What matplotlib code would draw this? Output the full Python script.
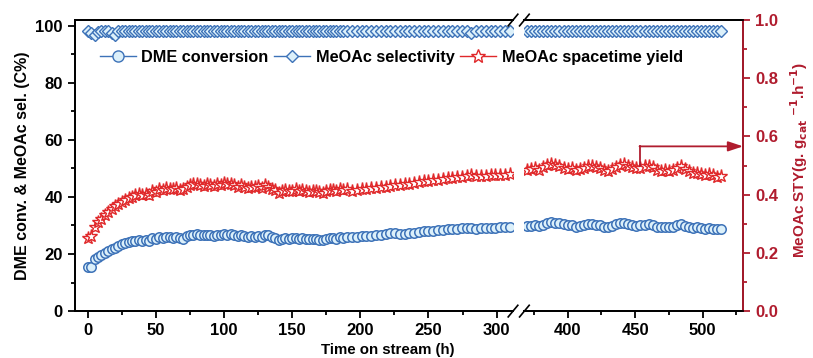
import matplotlib
matplotlib.use("Agg")
import matplotlib.pyplot as plt
from matplotlib.ticker import MultipleLocator
from matplotlib.lines import Line2D

plt.rcParams['font.family'] = ['Liberation Sans', 'DejaVu Sans']
plt.rcParams['font.weight'] = 'bold'
plt.rcParams['mathtext.default'] = 'bf'

# ---------------- data ----------------
t_dense = [0, 2.5, 5, 7.5, 10, 12.5, 15, 17.5, 20, 22.5, 25, 27.5, 30, 32.5, 35, 37.5, 40, 42.5, 45, 47.5,
           50, 52.5, 55, 57.5, 60, 62.5, 65, 67.5, 70, 72.5, 75, 77.5, 80, 82.5, 85, 87.5, 90, 92.5, 95, 97.5,
           100, 102.5, 105, 107.5, 110, 112.5, 115, 117.5, 120, 122.5, 125, 127.5, 130, 132.5, 135, 137.5,
           140, 142.5, 145, 147.5, 150, 152.5, 155, 157.5, 160, 162.5, 165, 167.5, 170, 172.5, 175, 177.5,
           180, 182.5, 185, 187.5, 190]
t_tail = [194, 197.5, 201, 204.5, 208, 211.5, 215, 218.5, 222, 225.5, 229, 232.5, 236, 239.5, 243, 246.5,
          250, 253.5, 257, 260.5, 264, 267.5, 271, 274.5, 278, 281.5, 285, 288.5, 292, 295.5, 299, 302.5,
          306, 309.5]
t_right = [370, 373, 376, 379, 382, 385, 388, 391, 394, 397, 400, 403, 406, 409, 412, 415, 418, 421, 424,
           427, 430, 433, 436, 439, 442, 445, 448, 451, 454, 457, 460, 463, 466, 469, 472, 475, 478, 481,
           484, 487, 490, 493, 496, 499, 502, 505, 508, 511, 514]

conv_dense = [15.3, 15.6, 18.2, 19.0, 19.6, 20.3, 21.0, 21.6, 22.2, 22.8, 23.4, 23.9, 24.1, 24.4, 24.6, 24.8,
              24.6, 24.9, 24.5, 25.6, 25.4, 25.8, 25.6, 26.0, 25.8, 25.7, 26.1, 25.5, 25.3, 26.3, 26.6, 26.8,
              27.0, 26.7, 26.5, 26.8, 26.6, 26.4, 26.7, 26.5, 26.9, 26.7, 27.0, 26.6, 26.4, 26.7, 26.2, 25.9,
              26.3, 26.1, 26.4, 26.0, 26.8, 26.5, 26.0, 25.5, 24.8, 25.3, 25.6, 25.4, 25.5, 25.7, 25.3, 25.5,
              25.4, 25.2, 25.4, 25.3, 25.0, 24.9, 25.3, 25.5, 25.6, 25.4, 25.8, 25.6, 25.9]
conv_tail = [26.0, 26.1, 26.2, 26.2, 26.4, 26.5, 26.6, 26.9, 27.2, 27.4, 27.1, 27.0, 27.2, 27.5, 27.8, 28.0,
             28.1, 28.2, 28.3, 28.5, 28.6, 28.8, 28.9, 29.0, 29.2, 29.2, 28.9, 29.0, 29.1, 29.1, 29.2, 29.3,
             29.3, 29.4]
conv_right = [29.8, 29.9, 30.0, 29.8, 30.3, 31.0, 31.3, 31.0, 30.8, 30.4, 30.0, 30.2, 29.6, 29.9, 30.2, 30.4,
              30.6, 30.3, 30.0, 29.6, 29.4, 29.8, 30.4, 30.8, 31.0, 30.6, 30.1, 29.8, 30.0, 30.3, 30.6, 30.2,
              29.6, 29.4, 29.5, 29.3, 29.6, 30.0, 30.4, 29.8, 29.4, 29.2, 29.3, 29.1, 28.9, 29.0, 28.8, 28.6,
              28.8]

sel_dense = [98.2, 97.5, 96.6, 97.9, 98.1, 98.2, 98.0, 97.6, 96.7, 98.0, 98.2, 98.1, 98.2, 98.0, 98.2, 98.1,
             98.2, 98.0, 98.2, 98.1, 98.2, 98.0, 98.2, 98.1, 98.2, 98.0, 98.2, 98.1, 98.2, 98.0, 98.2, 98.1,
             98.2, 98.0, 98.2, 98.1, 98.2, 98.0, 98.2, 98.1, 98.2, 98.0, 98.2, 98.1, 98.2, 98.0, 98.2, 98.1,
             98.2, 98.0, 98.2, 98.1, 98.2, 98.0, 98.2, 98.1, 98.2, 98.0, 98.2, 98.1, 98.2, 98.0, 98.2, 98.1,
             98.2, 98.0, 98.2, 98.1, 98.2, 98.0, 98.2, 98.1, 98.2, 98.0, 98.2, 98.1, 98.2]
sel_tail = [98.1, 98.0, 98.1, 98.0, 98.1, 98.0, 98.1, 98.0, 98.1, 98.0, 98.1, 98.0, 98.1, 98.0, 98.1, 98.0,
            98.1, 98.0, 98.1, 98.0, 98.1, 98.0, 98.1, 98.0, 98.1, 97.6, 98.1, 98.0, 98.1, 98.0, 98.1, 98.0,
            98.1, 98.0]
sel_right = [98.0, 98.1, 98.0, 98.1, 98.0, 98.1, 98.0, 98.1, 98.0, 98.1, 98.0, 98.1, 98.0, 98.1, 98.0, 98.1,
             98.0, 98.1, 98.0, 98.1, 98.0, 98.1, 98.0, 98.1, 98.0, 98.1, 98.0, 98.1, 98.0, 98.1, 98.0, 98.1,
             98.0, 98.1, 98.0, 98.1, 98.0, 98.1, 98.0, 98.1, 98.0, 98.1, 98.0, 98.1, 98.0, 98.1, 98.0, 98.1,
             98.0]

sty_dense = [0.250, 0.258, 0.290, 0.305, 0.318, 0.330, 0.340, 0.352, 0.360, 0.368, 0.375, 0.383, 0.390, 0.392,
             0.398, 0.402, 0.398, 0.404, 0.400, 0.412, 0.410, 0.418, 0.415, 0.422, 0.420, 0.418, 0.424, 0.415,
             0.420, 0.428, 0.432, 0.435, 0.438, 0.433, 0.430, 0.436, 0.434, 0.430, 0.435, 0.432, 0.440, 0.436,
             0.438, 0.432, 0.428, 0.434, 0.426, 0.422, 0.428, 0.425, 0.430, 0.424, 0.432, 0.428, 0.420, 0.415,
             0.405, 0.412, 0.416, 0.413, 0.414, 0.418, 0.412, 0.415, 0.414, 0.410, 0.414, 0.412, 0.408, 0.406,
             0.412, 0.415, 0.416, 0.414, 0.420, 0.417, 0.421]
sty_tail = [0.412, 0.415, 0.418, 0.420, 0.422, 0.424, 0.426, 0.428, 0.430, 0.433, 0.432, 0.435, 0.438, 0.440,
            0.443, 0.446, 0.448, 0.450, 0.452, 0.454, 0.456, 0.458, 0.460, 0.462, 0.465, 0.466, 0.464, 0.463,
            0.465, 0.466, 0.467, 0.468, 0.468, 0.470]
sty_right = [0.486, 0.488, 0.492, 0.486, 0.495, 0.502, 0.507, 0.503, 0.498, 0.492, 0.488, 0.492, 0.484, 0.488,
             0.493, 0.497, 0.500, 0.496, 0.490, 0.486, 0.482, 0.488, 0.496, 0.503, 0.507, 0.500, 0.494, 0.490,
             0.493, 0.497, 0.500, 0.494, 0.486, 0.482, 0.484, 0.480, 0.485, 0.490, 0.498, 0.488, 0.480, 0.474,
             0.476, 0.472, 0.468, 0.470, 0.466, 0.462, 0.465]

arrow_t = 454
arrow_y = [0.50, 0.566]

# ---------------- style ----------------
BLUE = '#3d72b8'
BLUE_FACE = '#dcf0fa'
RED = '#e0282a'
DARK_RED = '#b01c2e'
TICK_FS = 12

fig = plt.figure(figsize=(8.13, 3.58), dpi=100)
axL = fig.add_axes([0.092, 0.131, 0.539, 0.813])
axR = fig.add_axes([0.645, 0.131, 0.269, 0.813])
axL2 = axL.twinx()
axR2 = axR.twinx()

mk = dict(linestyle='none')
for ax, t, c, s in [(axL, t_dense + t_tail, conv_dense + conv_tail, sel_dense + sel_tail),
                    (axR, t_right, conv_right, sel_right)]:
    ax.plot(t, c, marker='o', ms=6.8, mfc=BLUE_FACE, mec=BLUE, mew=1.1, **mk)
    ax.plot(t, s, marker='D', ms=6.0, mfc=BLUE_FACE, mec=BLUE, mew=1.0, **mk)
for ax, t, y in [(axL2, t_dense + t_tail, sty_dense + sty_tail), (axR2, t_right, sty_right)]:
    ax.plot(t, y, marker='*', ms=9.5, mfc='white', mec=RED, mew=1.0, **mk)

# arrow
axR2.plot([arrow_t, arrow_t], arrow_y, color=DARK_RED, lw=1.3, clip_on=False)
axR2.annotate('', xy=(530, arrow_y[1]), xytext=(arrow_t - 0.7, arrow_y[1]),
              arrowprops=dict(arrowstyle='-|>,head_length=0.9,head_width=0.3', color=DARK_RED, lw=1.3,
                              shrinkA=0, shrinkB=0), annotation_clip=False)

# limits
for ax in (axL, axR):
    ax.set_ylim(0, 102)
for ax in (axL2, axR2):
    ax.set_ylim(0, 1.0)
axL.set_xlim(-9.5, 312)
axL2.set_xlim(-9.5, 312)
axR.set_xlim(368, 530)
axR2.set_xlim(368, 530)

# spines
for ax in (axL, axL2):
    ax.spines['right'].set_visible(False)
for ax in (axR, axR2):
    ax.spines['left'].set_visible(False)
for ax in (axL, axL2, axR, axR2):
    for sp in ax.spines.values():
        sp.set_linewidth(1.3)
axR2.spines['right'].set_color(DARK_RED)

# ticks
for ax in (axL, axR):
    ax.xaxis.set_major_locator(MultipleLocator(50))
    ax.xaxis.set_minor_locator(MultipleLocator(25))
axL.yaxis.set_major_locator(MultipleLocator(20))
axL.yaxis.set_minor_locator(MultipleLocator(10))
axR2.yaxis.set_major_locator(MultipleLocator(0.2))
axR2.yaxis.set_minor_locator(MultipleLocator(0.1))
axR2.yaxis.set_major_formatter(matplotlib.ticker.FormatStrFormatter('%.1f'))

for ax in (axL, axR):
    ax.tick_params(axis='x', which='both', direction='out', top=False, labelsize=TICK_FS, width=1.3)
    ax.tick_params(axis='x', which='major', length=5)
    ax.tick_params(axis='x', which='minor', length=3)
axL.tick_params(axis='y', which='both', direction='out', width=1.3, labelsize=TICK_FS)
axL.tick_params(axis='y', which='major', length=5)
axL.tick_params(axis='y', which='minor', length=3)
axR.tick_params(axis='y', which='both', left=False, labelleft=False)
axL2.tick_params(axis='y', which='both', right=False, labelright=False)
axR2.tick_params(axis='y', which='both', direction='out', width=1.3, colors=DARK_RED, labelsize=TICK_FS)
axR2.tick_params(axis='y', which='major', length=5)
axR2.tick_params(axis='y', which='minor', length=3)
for lab in axL.get_xticklabels() + axR.get_xticklabels() + axL.get_yticklabels() + axR2.get_yticklabels():
    lab.set_fontweight('bold')

# break marks
for ax, x0, dx in ((axL, 1.0, 0.011), (axR, 0.0, 0.022)):
    for y0 in (0.0, 1.0):
        ax.plot([x0 - dx, x0 + dx], [y0 - 0.02, y0 + 0.02],
                transform=ax.transAxes, color='k', lw=1.2, clip_on=False)

# labels
axL.set_ylabel('DME conv. & MeOAc sel. (C%)', fontsize=11.5, fontweight='bold', labelpad=4)
fig.text(0.983, 0.553, r'MeOAc STY(g. g$_{cat}$ $^{-1}$.h$^{-1}$)', rotation=90, ha='center', va='center',
         fontsize=11, fontweight='bold', color=DARK_RED)
fig.text(0.477, 0.022, 'Time on stream (h)', ha='center', va='center', fontsize=10.8, fontweight='bold')

# legend
h1 = Line2D([], [], color=BLUE, lw=1.0, marker='o', ms=8, mfc=BLUE_FACE, mec=BLUE, mew=1.0)
h2 = Line2D([], [], color=BLUE, lw=1.0, marker='D', ms=6.5, mfc=BLUE_FACE, mec=BLUE, mew=1.0)
h3 = Line2D([], [], color=RED, lw=1.0, marker='*', ms=10, mfc='white', mec=RED, mew=1.0)
fig.legend([h1, h2, h3], ['DME conversion', 'MeOAc selectivity', 'MeOAc spacetime yield'],
           loc='center left', bbox_to_anchor=(0.123, 0.84), ncol=3, frameon=False,
           handlelength=2.2, handletextpad=0.35, columnspacing=0.35, numpoints=1, borderaxespad=0,
           borderpad=0, prop=dict(size=11.7, weight='bold'))

fig.savefig('out.png', dpi=100)
